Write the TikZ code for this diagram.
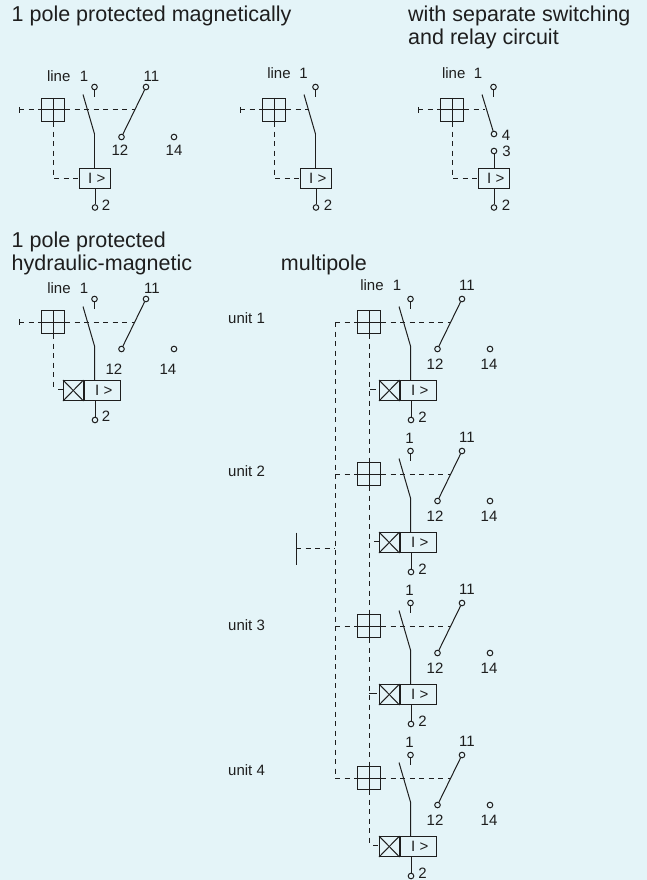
\documentclass[tikz,border=0pt]{standalone}
\usepackage{fontspec}
\setmainfont{Liberation Sans}
\definecolor{bgc}{HTML}{E4F4F8}
\definecolor{inkc}{HTML}{1E1E1E}
\tikzset{
  wire/.style={draw=inkc,line width=1pt},
  dash wire/.style={draw=inkc,line width=1pt,dash pattern=on 5pt off 4.5pt},
  term/.style={circle,draw=inkc,line width=1pt,minimum size=5.6pt,inner sep=0pt},
  handle/.style={rectangle,draw=inkc,line width=1pt,minimum width=23pt,minimum height=23pt,inner sep=0pt},
  relay/.style={rectangle,draw=inkc,line width=1pt,inner sep=0pt,text=inkc,font=\fontsize{15}{15}\selectfont},
  lab/.style={inner sep=0pt,text=inkc,font=\fontsize{15}{15}\selectfont},
  head/.style={inner sep=0pt,anchor=base west,text=inkc,font=\fontsize{21.5}{21.5}\selectfont},
}
% handle with its cross, terminal 1 and the pole blade points
\newcommand{\polesw}[1]{%
  \node[handle] (#1h) at (0,0) {};
  \draw[wire] (#1h.north) -- (#1h.south);
  \draw[wire] (#1h.west) -- (#1h.east);
  \node[term] (#1a) at (41.5,-23) {};
  \coordinate (#1as) at (41.5,-13);
  \draw[wire] (#1a) -- (#1as);
  \coordinate (#1bt) at (30,-15.5);
  \coordinate (#1bk) at (41.5,24);
}
% normally-open auxiliary contact
\newcommand{\auxc}[1]{%
  \node[term] (#1c) at (93,-23) {};
  \node[term] (#1d) at (68.5,27) {};
  \node[term] (#1e) at (121,27) {};
  \coordinate (#1m) at (82,0);
  \draw[wire] (#1c) -- (#1d);
  \draw[dash wire] (#1h.east) -- (#1m);
}
% relay box
\newcommand{\relbox}[1]{%
  \node[relay,minimum width=31pt,minimum height=20pt] (#1r) at (42,68) {\hspace*{3.5pt}I >};
}
% left bar of a single unit
\newcommand{\tbar}[1]{%
  \coordinate (#1l) at (-34,0);
  \coordinate (#1lu) at (-34,-3);
  \coordinate (#1ld) at (-34,3);
  \draw[wire] (#1lu) -- (#1ld);
  \draw[dash wire] (#1l) -- (#1h.west);
}
% magnetic + hydraulic box; #2,#3 the ends of the short tick
\newcommand{\hydbox}[3]{%
  \node[relay,minimum width=36pt,minimum height=20pt] (#1r) at (49,68.5) {\hspace*{3.5pt}I >};
  \node[relay,minimum width=19.5pt,minimum height=20pt,anchor=east] (#1x) at (#1r.west) {};
  \draw[wire] (#1x.north west) -- (#1x.south east);
  \draw[wire] (#1x.north east) -- (#1x.south west);
  \draw[wire] (#1bt) -- (#1bk) -- (#1bk |- #1r.north);
  \node[term] (#1t) at (42,98) {};
  \draw[wire] (#1r.south -| #1t) -- (#1t);
  \coordinate (#1j) at (0,67);
  \coordinate (#1k) at (#2,67);
  \coordinate (#1n) at (#3,67);
  \draw[wire] (#1k) -- (#1n);
}
\begin{document}
\begin{tikzpicture}[x=1pt,y=-1pt]
\useasboundingbox (0,0) rectangle (647,880);
\fill[bgc] (0,0) rectangle (647,880);

\node[head] at (11.5,22) {1 pole protected magnetically};
\node[head] at (408,22) {with separate switching};
\node[head] at (408,45) {and relay circuit};
\node[head] at (11.5,247) {1 pole protected};
\node[head] at (11.5,270) {hydraulic-magnetic};
\node[head] at (280.7,270) {multipole};

% --- diagram 1
\begin{scope}[shift={(53,110)}]
  \polesw{p}
  \auxc{p}
  \tbar{p}
  \draw[wire] (pbt) -- (pbk);
  \relbox{p}
  \draw[wire] (pbk) -- (pbk |- pr.north);
  \coordinate (pe) at (0,68);
  \draw[dash wire] (ph.south) -- (pe) -- (pr.west);
  \node[term] (pt) at (42,97.5) {};
  \draw[wire] (pr.south -| pt) -- (pt);
  \node[lab] at (5.7,-34) {line};
  \node[lab] at (31,-34) {1};
  \node[lab] at (98.5,-34) {11};
  \node[lab] at (67,40) {12};
  \node[lab] at (121,40) {14};
  \node[lab] at (53,95) {2};
\end{scope}

% --- diagram 2
\begin{scope}[shift={(274,110)}]
  \polesw{q}
  \tbar{q}
  \coordinate (qm) at (35,0);
  \draw[dash wire] (qh.east) -- (qm);
  \draw[wire] (qbt) -- (qbk);
  \relbox{q}
  \draw[wire] (qbk) -- (qbk |- qr.north);
  \coordinate (qe) at (0,68);
  \draw[dash wire] (qh.south) -- (qe) -- (qr.west);
  \node[term] (qt) at (42,97.5) {};
  \draw[wire] (qr.south -| qt) -- (qt);
  \node[lab] at (5,-37) {line};
  \node[lab] at (29.5,-37) {1};
  \node[lab] at (54,95) {2};
\end{scope}

% --- diagram 3
\begin{scope}[shift={(452,110)}]
  \polesw{s}
  \tbar{s}
  \coordinate (sm) at (33,0);
  \draw[dash wire] (sh.east) -- (sm);
  \node[term] (sf) at (42,24) {};
  \draw[wire] (sbt) -- (sf);
  \relbox{s}
  \node[term] (sg) at (42,41) {};
  \draw[wire] (sg) -- (sr.north -| sg);
  \coordinate (se) at (0,68);
  \draw[dash wire] (sh.south) -- (se) -- (sr.west);
  \node[term] (st) at (42,97.5) {};
  \draw[wire] (sr.south -| st) -- (st);
  \node[lab] at (1.7,-37) {line};
  \node[lab] at (26,-37) {1};
  \node[lab] at (54,25) {4};
  \node[lab] at (54.5,41) {3};
  \node[lab] at (54,95) {2};
\end{scope}

% --- diagram 4
\begin{scope}[shift={(53,322)}]
  \polesw{h}
  \auxc{h}
  \tbar{h}
  \hydbox{h}{5}{10.5}
  \draw[dash wire] (hh.south) -- (hj);
  \node[lab] at (6,-34) {line};
  \node[lab] at (31,-34) {1};
  \node[lab] at (99,-34) {11};
  \node[lab] at (61,47) {12};
  \node[lab] at (115,47) {14};
  \node[lab] at (53,94) {2};
\end{scope}

% --- multipole
\foreach \pre/\oy/\tka/\tkb in {ua/0/1/7,ub/152/5/10.7,uc/304/0/7.7,ud/456/4/9}{
\begin{scope}[shift={(369,322+\oy)}]
  \polesw{\pre}
  \auxc{\pre}
  \hydbox{\pre}{\tka}{\tkb}
  \coordinate (\pre lw) at (-34,0);
  \draw[dash wire] (\pre lw) -- (\pre h.west);
  \node[lab] at (98,-36.5) {11};
  \node[lab] at (66,42) {12};
  \node[lab] at (120,42) {14};
  \node[lab] at (53.5,95) {2};
\end{scope}
}
\node[lab] at (372,285) {line};
\node[lab] at (397,285) {1};
\node[lab] at (409.5,438) {1};
\node[lab] at (409.5,590.5) {1};
\node[lab] at (409.5,742) {1};

\draw[dash wire] (uah.south) -- (ubh.north);
\draw[dash wire] (ubh.south) -- (uch.north);
\draw[dash wire] (uch.south) -- (udh.north);
\draw[dash wire] (udh.south) -- (udj);
\draw[dash wire] (ualw) -- (udlw);
\coordinate (bar) at (296,548);
\coordinate (bart) at (296,532.5);
\coordinate (barb) at (296,565);
\draw[wire] (bart) -- (barb);
\draw[dash wire] (bar) -- (bar -| ualw);

\node[lab,anchor=base west] at (228,323) {unit 1};
\node[lab,anchor=base west] at (228,476) {unit 2};
\node[lab,anchor=base west] at (228,630) {unit 3};
\node[lab,anchor=base west] at (228,775) {unit 4};
\end{tikzpicture}
\end{document}
